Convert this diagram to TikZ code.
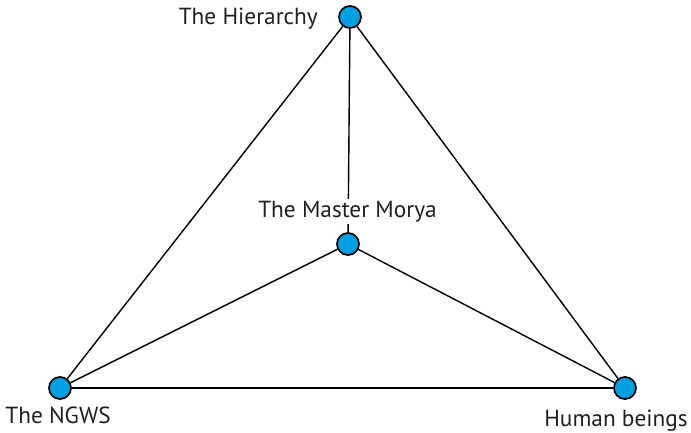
\documentclass[tikz,border=0pt]{standalone}
\usepackage{fontspec}
\setmainfont{PT Sans}
\begin{document}
\begin{tikzpicture}[x=1pt, y=-1pt]
    % Define colours
    \definecolor{dotColour}{RGB}{0,160,227}
    \definecolor{textColour}{HTML}{231F20}

    % Define styles
    \tikzset{
        dot/.style={circle, draw=black, line width=1.7pt, fill=dotColour, minimum size=22pt, inner sep=0pt},
        tag/.style={text=textColour, font=\fontsize{23.3}{26}\selectfont, inner xsep=0pt, inner ysep=2pt},
        link/.style={line width=1.4pt, draw=black}
    }

    % Fix the picture size
    \useasboundingbox (0,0) rectangle (691,433);

    % Place the dots
    \node[dot] (hier)  at (350,17)  {};
    \node[dot] (morya) at (348,244) {};
    \node[dot] (ngws)  at (60,388)  {};
    \node[dot] (human) at (625,388) {};

    % Draw the links
    \draw[link] (hier) -- (ngws);
    \draw[link] (hier) -- (human);
    \draw[link] (hier) -- (morya);
    \draw[link] (morya) -- (ngws);
    \draw[link] (morya) -- (human);
    \draw[link] (ngws) -- (human);

    % Label the dots
    \node[tag, anchor=base east] (hiertag) at (318,25) {The Hierarchy};
    \node[tag, anchor=base, fill=white] (moryatag) at (347.5,217.5) {The Master Morya};
    \node[tag, anchor=base] (ngwstag) at (58,423) {The NGWS};
    \node[tag, anchor=base] (humantag) at (616,426.5) {Human beings};

\end{tikzpicture}
\end{document}
